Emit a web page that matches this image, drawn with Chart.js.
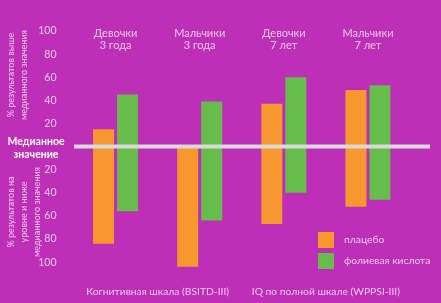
<!DOCTYPE html>
<html><head><meta charset="utf-8">
<script src="https://cdn.jsdelivr.net/npm/chart.js@4"></script>
<style>html,body{margin:0;padding:0;background:#bc2fb6;}#wrap{width:441px;height:303px;}</style>
</head><body><div id="wrap"><canvas id="c" width="441" height="303"></canvas></div>
<script>
const categories = [['Девочки','3 года'],['Мальчики','3 года'],['Девочки','7 лет'],['Мальчики','7 лет']];
const scaleLabels = ['Когнитивная шкала (BSITD-III)','IQ по полной шкале (WPPSI-III)'];
const seriesNames = ['плацебо','фолиевая кислота'];
const placeboAbove = [15, 0, 37, 49];
const placeboBelow = [84, 104, 67, 52];
const folicAbove = [45, 39, 60, 53];
const folicBelow = [56, 64, 40, 46];
const tickValues = [100, 80, 60, 40, 20];

const FONT = 'Lato';
const TXT = '#efc9ec';
const ORANGE = '#f7972d';
const GREEN = '#66bd4a';

const extras = {
  id: 'extras',
  afterDatasetsDraw(chart) {
    const ctx = chart.ctx, y = chart.scales.y, x = chart.scales.x;
    const y0 = y.getPixelForValue(0);
    ctx.save();
    ctx.strokeStyle = '#d9d9d9'; ctx.lineWidth = 4;
    ctx.beginPath(); ctx.moveTo(74, y0); ctx.lineTo(430, y0); ctx.stroke();
    ctx.fillStyle = TXT; ctx.textAlign = 'center'; ctx.textBaseline = 'middle';
    ctx.font = '11px ' + FONT;
    categories.forEach((c, i) => {
      const px = x.getPixelForValue(i);
      ctx.fillText(c[0], px, 33);
      ctx.fillText(c[1], px, 45);
    });
    ctx.font = '10.3px ' + FONT;
    scaleLabels.forEach((s, i) => {
      const px = (x.getPixelForValue(2*i) + x.getPixelForValue(2*i+1)) / 2;
      ctx.fillText(s, px, 292);
    });
    // median label
    ctx.fillStyle = '#ffffff'; ctx.font = 'bold 10.5px ' + FONT;
    ctx.fillText('Медианное', 36, y0 - 5);
    ctx.fillText('значение', 36, y0 + 8);
    // rotated titles
    ctx.fillStyle = TXT; ctx.font = '9px ' + FONT;
    const rot = (lines, xs, cy) => {
      lines.forEach((l, i) => {
        ctx.save(); ctx.translate(xs[i], cy); ctx.rotate(-Math.PI/2);
        ctx.fillText(l, 0, 0); ctx.restore();
      });
    };
    rot(['% результатов выше','медианного значения'], [11, 24], 75);
    rot(['% результатов на','уровне и ниже','медианного значения'], [11, 24, 37], 212);
    // legend
    ctx.font = '10.3px ' + FONT; ctx.textAlign = 'left';
    const cols = [ORANGE, GREEN];
    seriesNames.forEach((n, i) => {
      const ly = 232 + i * 21;
      ctx.fillStyle = cols[i]; ctx.fillRect(318, ly, 16, 16);
      ctx.fillStyle = TXT; ctx.fillText(n, 344, ly + 8);
    });
    ctx.restore();
  }
};

new Chart(document.getElementById('c'), {
  type: 'bar',
  data: {
    labels: categories.map(c => c.join(' ')),
    datasets: [
      { label: seriesNames[0], data: placeboAbove.map((a, i) => [-placeboBelow[i], a]), backgroundColor: ORANGE },
      { label: seriesNames[1], data: folicAbove.map((a, i) => [-folicBelow[i], a]), backgroundColor: GREEN }
    ]
  },
  options: {
    responsive: false, animation: false,
    layout: { padding: { top: 31, bottom: 35, right: 31, left: 0 } },
    categoryPercentage: 0.571, barPercentage: 0.875,
    plugins: { legend: { display: false }, tooltip: { enabled: false } },
    scales: {
      x: { display: false },
      y: {
        min: -105, max: 100,
        grid: { display: false }, border: { display: false },
        afterFit(s) { s.width = 73.5; },
        afterBuildTicks(s) {
          s.ticks = tickValues.concat(tickValues.slice().reverse().map(v => -v)).map(v => ({ value: v }));
        },
        ticks: { color: TXT, font: { family: FONT, size: 10.5 }, padding: 9, callback: v => Math.abs(v) }
      }
    }
  },
  plugins: [extras]
});
</script></body></html>
